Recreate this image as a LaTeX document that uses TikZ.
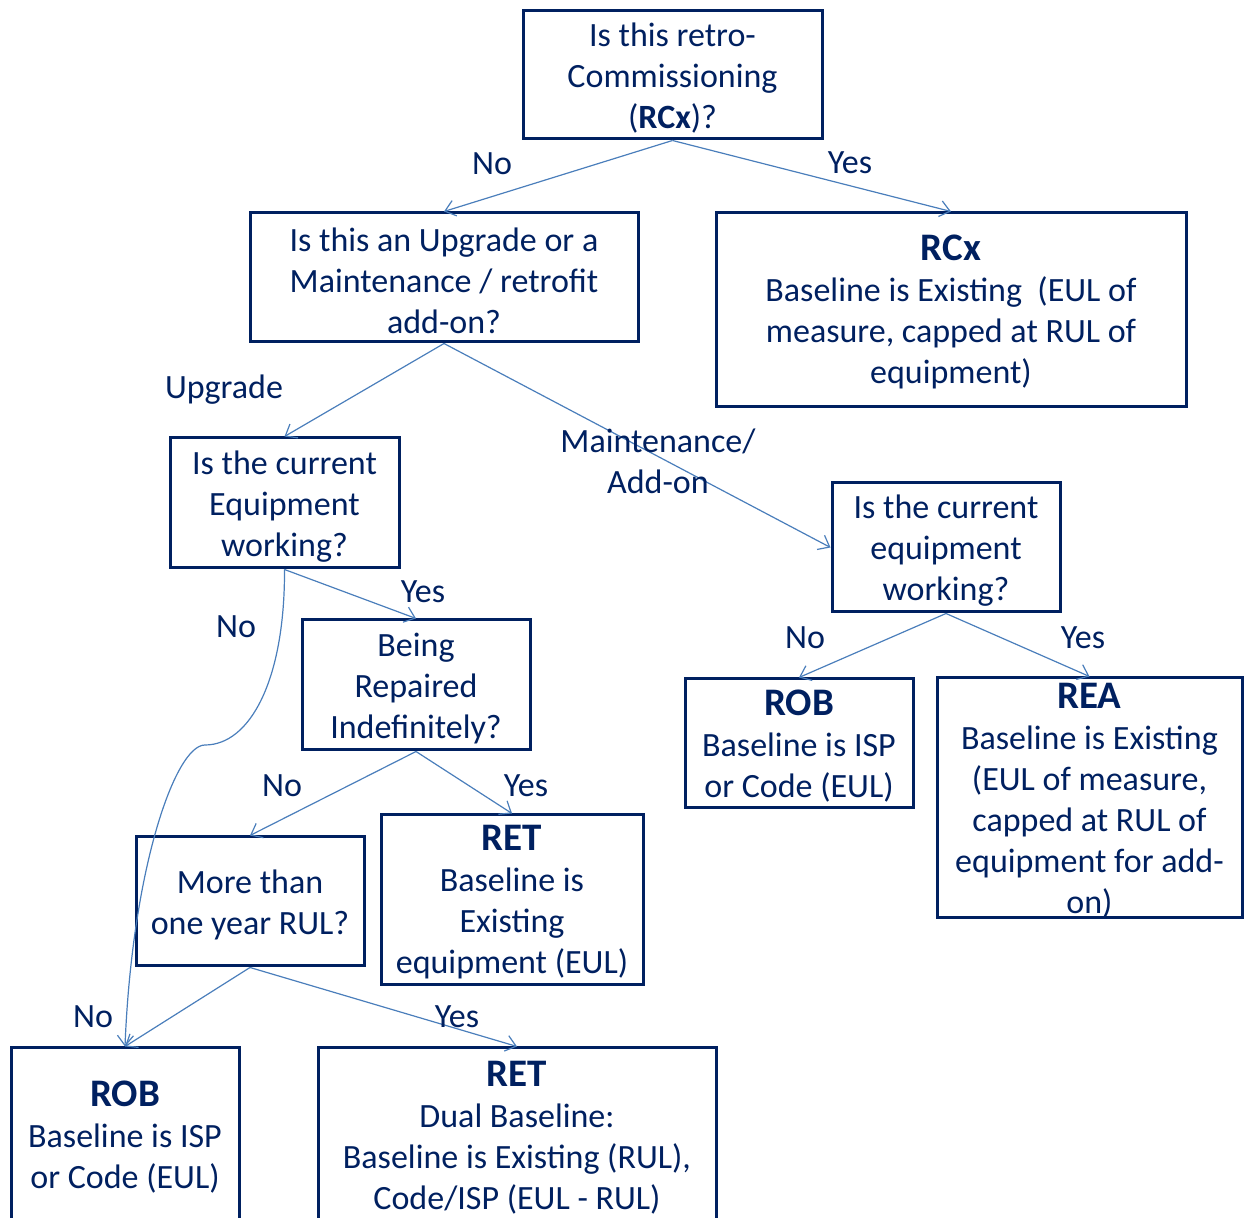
\documentclass[tikz,border=0pt]{standalone}
\usepackage{fontspec}
\setmainfont{Carlito}
\usetikzlibrary{arrows.meta}
\definecolor{navy}{HTML}{002060}
\definecolor{connc}{HTML}{4A7EBB}
\newcommand{\hd}[1]{{\fontsize{19.5}{20.5}\selectfont\bfseries #1}}
\newcommand{\tstrut}{\rule{0pt}{15pt}}
\begin{document}
\begin{tikzpicture}[x=0.5pt,y=-0.5pt,
  box/.style={draw=navy,line width=1.5pt,text=navy,align=center,inner sep=0pt,
    font=\fontsize{17}{20.5}\selectfont},
  lbl/.style={text=navy,align=center,inner sep=0pt,font=\fontsize{17}{20.5}\selectfont},
  conn/.style={draw=connc,line width=0.6pt,-{Straight Barb[length=5pt,width=8pt]}}]
\useasboundingbox (0,0) rectangle (1244,1218);

% boxes
\node[box,minimum width=149.5pt,minimum height=64pt] (q1) at (672.5,75)
  {\tstrut Is this retro-\\Commissioning\\(\textbf{RCx})?};
\node[box,minimum width=194pt,minimum height=64.5pt] (q2) at (444,277.5)
  {\tstrut Is this an Upgrade or a\\Maintenance / retrofit\\add-on?};
\node[box,minimum width=235pt,minimum height=97pt] (rcx) at (951,310)
  {\tstrut\hd{RCx}\\Baseline is Existing~ (EUL of\\measure, capped at RUL of\\equipment)};
\node[box,minimum width=114.5pt,minimum height=65pt] (q3) at (284.5,503)
  {\tstrut Is the current\\Equipment\\working?};
\node[box,minimum width=114pt,minimum height=64.5pt] (q4) at (946,547.5)
  {\tstrut Is the current\\equipment\\working?};
\node[box,minimum width=114pt,minimum height=65pt] (q5) at (416,685)
  {\tstrut Being\\Repaired\\Indefinitely?};
\node[box,minimum width=114pt,minimum height=64.5pt] (rob1) at (799,743.5)
  {\tstrut\hd{ROB}\\Baseline is ISP\\or Code (EUL)};
\node[box,minimum width=152.5pt,minimum height=120pt] (rea) at (1089.5,798)
  {\tstrut\hd{REA}\\Baseline is Existing\\(EUL of measure,\\capped at RUL of\\equipment for add-\\on)};
\node[box,minimum width=114pt,minimum height=64.5pt] (q6) at (250,901.5)
  {\tstrut More than\\one year RUL?};
\node[box,minimum width=131pt,minimum height=85pt] (ret1) at (512,900)
  {\tstrut\hd{RET}\\Baseline is\\Existing\\equipment (EUL)};
\node[box,minimum width=114pt,minimum height=87pt] (rob2) at (125,1135)
  {\tstrut\hd{ROB}\\Baseline is ISP\\or Code (EUL)};
\node[box,minimum width=199pt,minimum height=87pt] (ret2) at (517,1135)
  {\tstrut\hd{RET}\\Dual Baseline:\\Baseline is Existing (RUL),\\Code/ISP (EUL - RUL)};

% connectors
\draw[conn] (q1.south) -- (q2.north);
\draw[conn] (q1.south) -- (rcx.north);
\draw[conn] (q2.south) -- (q3.north);
\draw[conn] (q2.south) -- (q4.west);
\draw[conn] (q3.south) -- (q5.north);
\draw[conn] (q3.south) .. controls (285,680) and (250,745) .. (205,745)
  .. controls (175,745) and (132,870) .. (rob2.north);
\draw[conn] (q5.south) -- (q6.north);
\draw[conn] (q5.south) -- (ret1.north);
\draw[conn] (q6.south) -- (rob2.north);
\draw[conn] (q6.south) -- (ret2.north);
\draw[conn] (q4.south) -- (rob1.north);
\draw[conn] (q4.south) -- (rea.north);

% labels
\node[lbl] (l1) at (492,164) {No};
\node[lbl] (l2) at (850,163) {Yes};
\node[lbl] (l3) at (224,390) {Upgrade};
\node[lbl] (l4) at (658,461) {Maintenance/\\Add-on};
\node[lbl] (l5) at (423,592) {Yes};
\node[lbl] (l6) at (236,627) {No};
\node[lbl] (l7) at (282,786) {No};
\node[lbl] (l8) at (526,786) {Yes};
\node[lbl] (l9) at (93,1017) {No};
\node[lbl] (l10) at (457,1017) {Yes};
\node[lbl] (l11) at (805,638) {No};
\node[lbl] (l12) at (1083,638) {Yes};
\end{tikzpicture}
\end{document}
